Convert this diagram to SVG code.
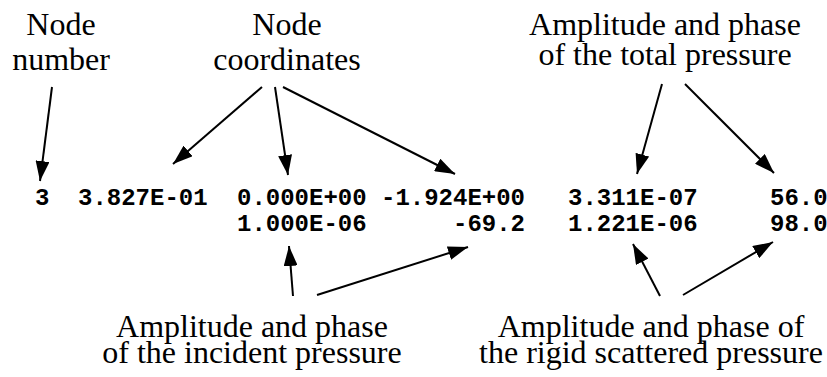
<svg xmlns="http://www.w3.org/2000/svg" width="827" height="377" viewBox="0 0 827 377">
  <style>
    .label { font-family: "Liberation Serif", "Times New Roman", serif; font-size: 32px; fill: #000; text-anchor: middle; }
    .data { font-family: "Liberation Mono", "Courier New", monospace; font-size: 24px; font-weight: bold; fill: #000; }
    .conn { stroke: #000; stroke-width: 2; fill: none; marker-end: url(#head); }
  </style>
  <defs>
    <marker id="head" markerUnits="userSpaceOnUse" viewBox="0 0 20 14" refX="20" refY="7" markerWidth="20" markerHeight="14" orient="auto">
      <path d="M0,0 L20,7 L0,14 Z" fill="#000"/>
    </marker>
  </defs>
  <rect width="827" height="377" fill="#fff"/>

  <!-- output record: node, coordinates and pressures -->
  <g id="record">
    <text class="data" x="35" y="205">3</text>
    <text class="data" x="78" y="205">3.827E-01</text>
    <text class="data" x="237" y="205">0.000E+00</text>
    <text class="data" x="381" y="205">-1.924E+00</text>
    <text class="data" x="568" y="205">3.311E-07</text>
    <text class="data" x="770" y="205">56.0</text>
    <text class="data" x="237" y="231">1.000E-06</text>
    <text class="data" x="453" y="231">-69.2</text>
    <text class="data" x="568" y="231">1.221E-06</text>
    <text class="data" x="770" y="231">98.0</text>
  </g>

  <g id="node-number">
    <text class="label" x="61" y="35">Node</text>
    <text class="label" x="61" y="70">number</text>
  </g>
  <g id="node-coordinates">
    <text class="label" x="287" y="35">Node</text>
    <text class="label" x="287" y="70">coordinates</text>
  </g>
  <g id="total-pressure">
    <text class="label" x="665" y="35">Amplitude and phase</text>
    <text class="label" x="665" y="65">of the total pressure</text>
  </g>
  <g id="incident-pressure">
    <text class="label" x="252" y="337">Amplitude and phase</text>
    <text class="label" x="252" y="363">of the incident pressure</text>
  </g>
  <g id="scattered-pressure">
    <text class="label" x="651" y="337">Amplitude and phase of</text>
    <text class="label" x="651" y="363">the rigid scattered pressure</text>
  </g>

  <g id="connectors">
    <line class="conn" x1="52" y1="87" x2="40" y2="181"/>
    <line class="conn" x1="262" y1="87" x2="173" y2="164"/>
    <line class="conn" x1="275" y1="87" x2="288" y2="175"/>
    <line class="conn" x1="283" y1="87" x2="455" y2="174"/>
    <line class="conn" x1="662" y1="84" x2="637" y2="174"/>
    <line class="conn" x1="685" y1="84" x2="774" y2="173"/>
    <line class="conn" x1="293" y1="296" x2="289" y2="246"/>
    <line class="conn" x1="317" y1="295" x2="468" y2="247"/>
    <line class="conn" x1="660" y1="296" x2="633" y2="244"/>
    <line class="conn" x1="683" y1="295" x2="773" y2="242"/>
  </g>
</svg>
